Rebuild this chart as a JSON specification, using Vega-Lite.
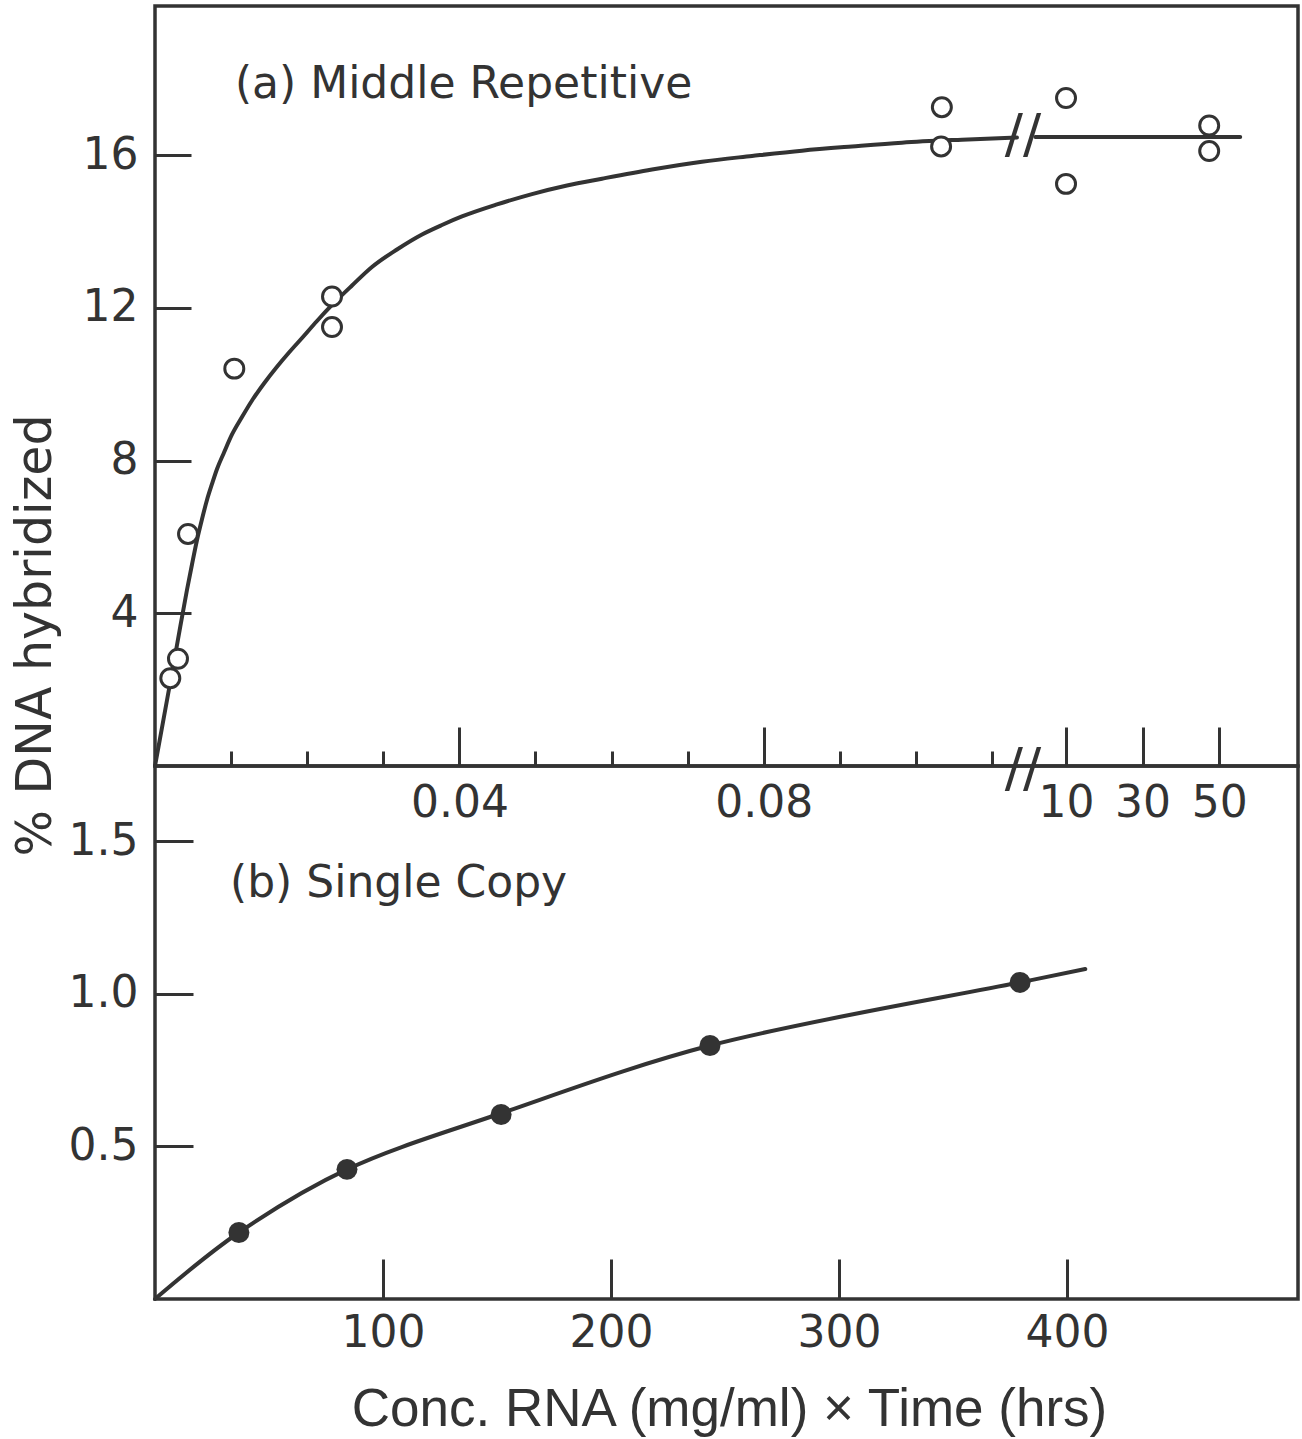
{
  "$schema": "https://vega.github.io/schema/vega-lite/v6.json",
  "background": "white",
  "padding": {"left": 9, "top": 4, "right": 0, "bottom": 0},
  "spacing": 0,
  "bounds": "flush",
  "config": {
    "font": "DejaVu Sans",
    "view": {"stroke": "#333333", "strokeWidth": 3.5},
    "axis": {"domain": false, "grid": false, "labelFont": "DejaVu Sans", "labelFontSize": 44, "labelColor": "#333333", "tickColor": "#333333", "tickWidth": 3, "titleFont": "DejaVu Sans", "titleFontSize": 49, "titleFontWeight": "normal", "titleColor": "#333333", "labelOverlap": false, "labelFlush": false}
  },
  "datasets": {
    "curveA": [
      {"segment": "a", "x": 0, "y": 0},
      {"segment": "a", "x": 0.00158, "y": 1.729},
      {"segment": "a", "x": 0.00289, "y": 3.170},
      {"segment": "a", "x": 0.00420, "y": 4.611},
      {"segment": "a", "x": 0.00486, "y": 5.279},
      {"segment": "a", "x": 0.00552, "y": 5.921},
      {"segment": "a", "x": 0.00618, "y": 6.471},
      {"segment": "a", "x": 0.00683, "y": 6.969},
      {"segment": "a", "x": 0.00749, "y": 7.388},
      {"segment": "a", "x": 0.00815, "y": 7.781},
      {"segment": "a", "x": 0.00907, "y": 8.213},
      {"segment": "a", "x": 0.01012, "y": 8.685},
      {"segment": "a", "x": 0.01143, "y": 9.143},
      {"segment": "a", "x": 0.01275, "y": 9.576},
      {"segment": "a", "x": 0.01432, "y": 10.021},
      {"segment": "a", "x": 0.01603, "y": 10.460},
      {"segment": "a", "x": 0.01761, "y": 10.833},
      {"segment": "a", "x": 0.01932, "y": 11.213},
      {"segment": "a", "x": 0.02129, "y": 11.658},
      {"segment": "a", "x": 0.02326, "y": 12.078},
      {"segment": "a", "x": 0.02589, "y": 12.588},
      {"segment": "a", "x": 0.02851, "y": 13.073},
      {"segment": "a", "x": 0.03180, "y": 13.532},
      {"segment": "a", "x": 0.03509, "y": 13.925},
      {"segment": "a", "x": 0.03771, "y": 14.173},
      {"segment": "a", "x": 0.04034, "y": 14.396},
      {"segment": "a", "x": 0.04494, "y": 14.711},
      {"segment": "a", "x": 0.04954, "y": 14.983},
      {"segment": "a", "x": 0.05414, "y": 15.208},
      {"segment": "a", "x": 0.05874, "y": 15.386},
      {"segment": "a", "x": 0.06531, "y": 15.627},
      {"segment": "a", "x": 0.07188, "y": 15.832},
      {"segment": "a", "x": 0.07845, "y": 15.981},
      {"segment": "a", "x": 0.08502, "y": 16.120},
      {"segment": "a", "x": 0.09159, "y": 16.230},
      {"segment": "a", "x": 0.09816, "y": 16.330},
      {"segment": "a", "x": 0.10604, "y": 16.408},
      {"segment": "a", "x": 0.11327, "y": 16.466},
      {"segment": "b", "x": 2, "y": 16.48},
      {"segment": "b", "x": 55.5, "y": 16.48}
    ],
    "pointsA": [
      {"x": 0.00201, "y": 2.30},
      {"x": 0.00302, "y": 2.81},
      {"x": 0.00434, "y": 6.08},
      {"x": 0.01042, "y": 10.41},
      {"x": 0.02326, "y": 11.50},
      {"x": 0.02326, "y": 12.30},
      {"x": 0.1034, "y": 17.26},
      {"x": 0.1033, "y": 16.23},
      {"x": 10, "y": 17.50},
      {"x": 10, "y": 15.25},
      {"x": 47.4, "y": 16.78},
      {"x": 47.4, "y": 16.11}
    ],
    "breaksA": [
      {"x": 0.38, "y": 16.5, "label": "//"},
      {"x": 0.38, "y": -0.1, "label": "//"}
    ],
    "labelsA": [
      {"x": 0.0105, "y": 17.85, "label": "(a) Middle Repetitive"}
    ],
    "curveB": [
      {"x": 0, "y": 0},
      {"x": 36.8, "y": 0.218},
      {"x": 84.2, "y": 0.425},
      {"x": 151.8, "y": 0.609},
      {"x": 243.4, "y": 0.831},
      {"x": 379.4, "y": 1.038},
      {"x": 408, "y": 1.082}
    ],
    "pointsB": [
      {"x": 36.8, "y": 0.218},
      {"x": 84.2, "y": 0.425},
      {"x": 151.8, "y": 0.605},
      {"x": 243.4, "y": 0.831},
      {"x": 379.4, "y": 1.038}
    ],
    "labelsB": [
      {"x": 32.9, "y": 1.362, "label": "(b) Single Copy"}
    ]
  },
  "vconcat": [
    {
      "width": 1143,
      "height": 760,
      "encoding": {
        "x": {
          "field": "x", "type": "quantitative",
          "scale": {"type": "linear", "domain": [0, 0.1138, 2, 70.6], "range": [0, 866, 880.4, 1143], "nice": false, "zero": false},
          "axis": {
            "values": [0.01, 0.02, 0.03, 0.04, 0.05, 0.06, 0.07, 0.08, 0.09, 0.1, 0.11, 10, 30, 50],
            "tickSize": {"condition": {"test": "indexof([0.04, 0.08, 10, 30, 50], datum.value) >= 0", "value": -39}, "value": -15},
            "labelPadding": 54,
            "labelExpr": "datum.value == 0.04 ? '0.04' : datum.value == 0.08 ? '0.08' : datum.value >= 10 ? format(datum.value, 'd') : ''",
            "title": null
          }
        },
        "y": {
          "field": "y", "type": "quantitative",
          "scale": {"domain": [0, 19.91], "nice": false, "zero": false},
          "axis": {
            "values": [4, 8, 12, 16],
            "tickSize": -36,
            "labelPadding": 53,
            "title": "% DNA hybridized",
            "titleX": -120,
            "titleY": 629,
            "titleAngle": -90,
            "titleAlign": "center",
            "titleBaseline": "middle"
          }
        }
      },
      "layer": [
        {"data": {"name": "curveA"}, "mark": {"type": "line", "interpolate": "monotone", "color": "#333333", "strokeWidth": 4, "strokeCap": "round"}, "encoding": {"detail": {"field": "segment", "type": "nominal"}}},
        {"data": {"name": "pointsA"}, "mark": {"type": "point", "shape": "circle", "filled": true, "fill": "white", "stroke": "#333333", "strokeWidth": 3, "size": 360, "opacity": 1}},
        {"data": {"name": "breaksA"}, "mark": {"type": "text", "font": "DejaVu Sans", "fontSize": 54, "align": "center", "baseline": "middle", "color": "#333333"}, "encoding": {"text": {"field": "label", "type": "nominal"}}},
        {"data": {"name": "labelsA"}, "mark": {"type": "text", "font": "DejaVu Sans", "fontSize": 44, "align": "left", "baseline": "middle", "color": "#333333"}, "encoding": {"text": {"field": "label", "type": "nominal"}}}
      ]
    },
    {
      "width": 1143,
      "height": 533,
      "encoding": {
        "x": {
          "field": "x", "type": "quantitative",
          "scale": {"domain": [0, 501.3], "nice": false, "zero": false},
          "axis": {
            "values": [100, 200, 300, 400],
            "tickSize": -40,
            "labelPadding": 52,
            "title": "Conc. RNA (mg/ml) × Time (hrs)",
            "titleFont": "Liberation Sans",
            "titleFontSize": 53,
            "titleX": 574,
            "titleY": 110,
            "titleAngle": 0,
            "titleAlign": "center",
            "titleBaseline": "middle"
          }
        },
        "y": {
          "field": "y", "type": "quantitative",
          "scale": {"domain": [0, 1.7475], "nice": false, "zero": false},
          "axis": {
            "values": [0.5, 1, 1.5],
            "format": ".1f",
            "tickSize": -38,
            "labelPadding": 55,
            "title": null
          }
        }
      },
      "layer": [
        {"data": {"name": "curveB"}, "mark": {"type": "line", "interpolate": "catmull-rom", "color": "#333333", "strokeWidth": 4, "strokeCap": "round"}},
        {"data": {"name": "pointsB"}, "mark": {"type": "point", "shape": "circle", "filled": true, "fill": "#333333", "strokeWidth": 0, "size": 440, "opacity": 1}},
        {"data": {"name": "labelsB"}, "mark": {"type": "text", "font": "DejaVu Sans", "fontSize": 44, "align": "left", "baseline": "middle", "color": "#333333"}, "encoding": {"text": {"field": "label", "type": "nominal"}}}
      ]
    }
  ]
}
